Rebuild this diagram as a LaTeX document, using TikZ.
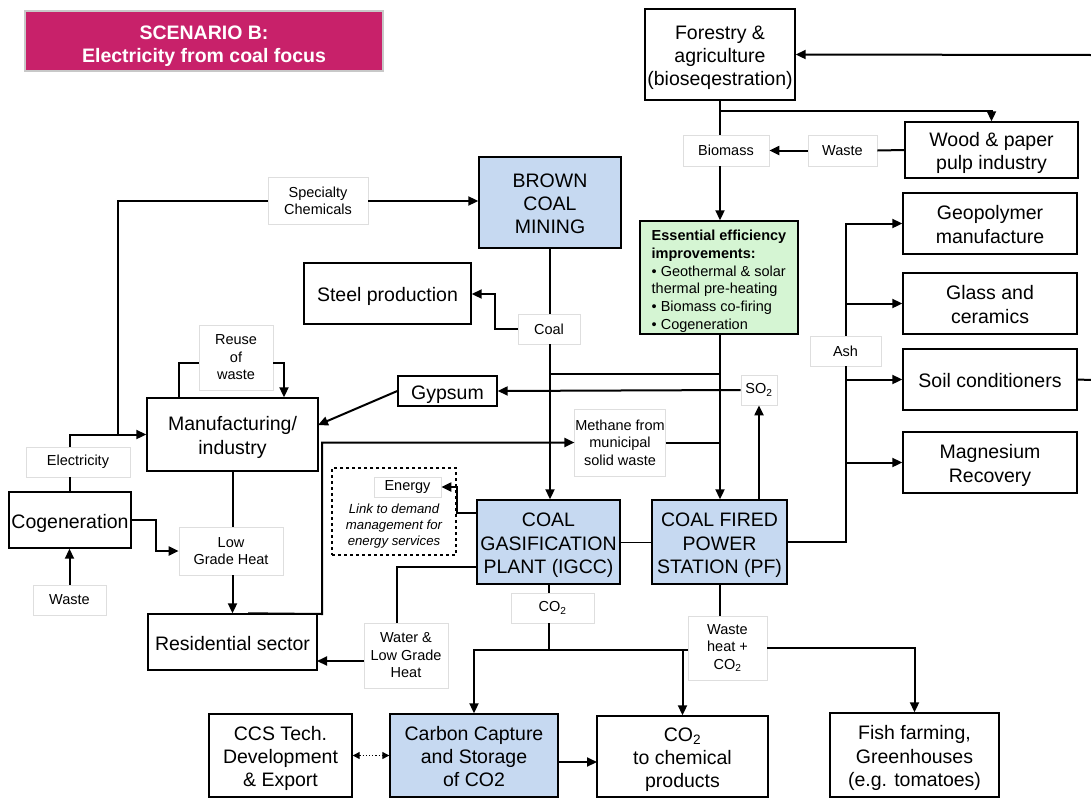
\documentclass[tikz,border=0pt]{standalone}
\usepackage{fontspec}
\setmainfont{Liberation Sans}
\usetikzlibrary{arrows.meta,calc}
\definecolor{titlemag}{RGB}{200,33,106}
\definecolor{boxblue}{RGB}{198,217,241}
\definecolor{boxgreen}{RGB}{213,245,211}
\definecolor{lblgray}{RGB}{222,222,222}
\definecolor{titleedge}{RGB}{200,200,200}
\newcommand\tsA{\rule{0pt}{1.05em}}
\newcommand\bsA{\rule[-0.22em]{0pt}{0pt}}
\tikzset{
  sz/.style 2 args={minimum width=#1pt, minimum height=#2pt},
  bigbox/.style={draw, line width=1.4pt, align=center, inner sep=1pt,
    font=\fontsize{19.5}{23.3}\selectfont},
  bluebox/.style={bigbox, fill=boxblue},
  titlebox/.style={draw=titleedge, line width=1.5pt, fill=titlemag, text=white,
    align=center, inner sep=1pt, font=\bfseries\fontsize{19.5}{23.3}\selectfont},
  lbl/.style={draw=lblgray, line width=0.7pt, fill=white, align=center, inner sep=0.5pt,
    font=\fontsize{14.5}{17.5}\selectfont},
  ln/.style={line width=2pt},
  arr/.style={line width=2pt, -{Triangle[length=10pt,width=9pt]}},
}
\begin{document}
\begin{tikzpicture}[x=1pt,y=-1pt]
\useasboundingbox (0,0) rectangle (1091,798);

% ---- nodes ----
\node[titlebox, sz={358}{60}] (title) at (204,41) {\rule{0pt}{24pt}SCENARIO B:\\Electricity from coal focus};

\node[bigbox, sz={150}{91}] (forest) at (720,54.5) {\tsA Forestry \&\\agriculture\\(bioseqestration)\bsA};
\node[bigbox, sz={173}{56}] (wood) at (991.5,150) {\tsA Wood \& paper\\pulp industry\bsA};
\node[lbl, sz={86}{31}] (biomass) at (726,150.5) {Biomass};
\node[lbl, sz={69}{31}] (wasteA) at (842.5,150.5) {Waste};
\node[draw, line width=1.4pt, fill=boxgreen, sz={158}{113}, align=left, inner sep=1pt,
      font=\fontsize{14.5}{17.8}\selectfont] (essential) at (719,277.5)
  {\rule{0pt}{1.25em}\textbf{Essential efficiency}\\\textbf{improvements:}\\• Geothermal \& solar\\thermal pre-heating\\• Biomass co-firing\\• Cogeneration};

\node[bluebox, sz={142}{91}] (brown) at (550,202.5) {\tsA BROWN\\COAL\\MINING\bsA};
\node[lbl, sz={100}{47}] (spec) at (318,201) {Specialty\\Chemicals};
\node[bigbox, sz={167}{61}] (steel) at (387.5,293.5) {\tsA Steel production\bsA};
\node[lbl, sz={62}{30}] (coal) at (549,329) {Coal};
\node[lbl, sz={36}{30}] (so2) at (759,390) {SO\textsubscript{2}};
\node[bigbox, sz={99}{30}] (gypsum) at (447.5,391) {\tsA Gypsum\bsA};
\node[bigbox, sz={171}{73}] (manuf) at (232.5,434.5) {\tsA Manufacturing/\\industry\bsA};
\node[lbl, sz={74}{65}] (reuse) at (236,357.5) {Reuse\\of\\waste};
\node[lbl, sz={104}{30}] (elec) at (78,462) {Electricity};
\node[bigbox, sz={122}{56}] (cogen) at (70,520) {\tsA Cogeneration\bsA};
\node[lbl, sz={73}{30}] (wasteB) at (69.5,600) {Waste};
\node[lbl, sz={104}{48}] (lgh) at (231,551) {Low\\Grade Heat};
\node[bigbox, sz={169}{56}] (resid) at (232.5,642) {\tsA Residential sector\bsA};
\node[lbl, sz={90}{67}] (methane) at (620,442.5) {Methane from\\municipal\\solid waste};

\node[draw, dashed, line width=1.2pt, sz={124}{87}] (dashbox) at (394,511.5) {};
\node[lbl, sz={67}{20}] (energy) at (407.5,487) {Energy};
\node[align=center, inner sep=0pt, font=\itshape\fontsize{13.2}{16}\selectfont] (linktext) at (394,526)
  {Link to demand\\management for\\energy services};

\node[bluebox, sz={143}{84}] (gasif) at (548.5,542) {\tsA COAL\\GASIFICATION\\PLANT (IGCC)\bsA};
\node[bluebox, sz={135}{84}] (power) at (719.5,542) {\tsA COAL FIRED\\POWER\\STATION (PF)\bsA};

\node[lbl, sz={71}{30}] (ash) at (845.5,351) {Ash};
\node[bigbox, sz={174}{61}] (geo) at (990,223.5) {\tsA Geopolymer\\manufacture\bsA};
\node[bigbox, sz={174}{61}] (glass) at (990,303.5) {\tsA Glass and\\ceramics\bsA};
\node[bigbox, sz={174}{61}] (soil) at (990,379.5) {\tsA Soil conditioners\bsA};
\node[bigbox, sz={174}{61}] (magn) at (990,462.5) {\tsA Magnesium\\Recovery\bsA};

\node[lbl, sz={84}{65}] (water) at (406,655.5) {Water \&\\Low Grade\\Heat};
\node[lbl, sz={83}{30}] (co2) at (552.5,608) {CO\textsubscript{2}};
\node[lbl, sz={79}{64}] (wasteheat) at (727.5,648) {Waste\\heat +\\CO\textsubscript{2}};

\node[bigbox, sz={143}{83}] (ccstech) at (280.5,755.5) {\tsA CCS Tech.\\Development\\\& Export\bsA};
\node[bluebox, sz={168}{83}] (ccs) at (474,755.5) {\tsA Carbon Capture\\and Storage\\of CO2\bsA};
\node[bigbox, sz={171}{81}] (co2chem) at (682.5,756.5) {\tsA CO\textsubscript{2}\\to chemical\\products\bsA};
\node[bigbox, sz={169}{84}] (fish) at (914.5,755) {\tsA Fish farming,\\Greenhouses\\(e.g. tomatoes)\bsA};

% ---- helper coordinates ----
\coordinate (rA) at (1091,55);
\coordinate (fb) at (720,111);
\coordinate (cs) at (495,294);
\coordinate (j1) at (550,374);
\coordinate (j2) at (720,374);
\coordinate (gyin) at (318,425);
\coordinate (sj) at (118,434.5);
\coordinate (ru) at (0,363);
\coordinate (rm) at (322,614);
\coordinate (en1) at (477,513);
\coordinate (en2) at (457,513);
\coordinate (wv1) at (477,567);
\coordinate (wv2) at (397,567);
\coordinate (wr1) at (364,661);
\coordinate (wr2) at (317,661);
\coordinate (cj) at (548.5,650);
\coordinate (cb) at (682.5,650);
\coordinate (rS) at (1091,380);
\coordinate (ccsout) at (558,762);
\coordinate (co2in) at (597,762);

% ---- connectors ----
\draw[arr] (rA) -- (forest.east);
\draw[ln] (forest.south) -- (forest.south |- biomass.north);
\draw[arr] (fb) -| (wood.north);
\draw[ln] (wood.west) -- (wasteA.east);
\draw[arr] (wasteA.west) -- (biomass.east);
\draw[arr] (forest.south |- biomass.south) -- (forest.south |- essential.north);
\draw[arr] (forest.south |- essential.south) -- (forest.south |- power.north);

\draw[ln] (brown.south) -- (brown.south |- coal.north);
\draw[arr] (brown.south |- coal.south) -- (brown.south |- gasif.north);
\draw[arr] (coal.west) -| (cs) -- (steel.east |- cs);
\draw[ln] (j1) -- (j2);

\draw[arr] (so2.south |- power.north) -- (so2.south);
\draw[arr] (so2.west) -- (gypsum.east);
\draw[arr] (gypsum.west) -- (gyin);

\draw[ln] ([xshift=-53.5pt]manuf.north) |- (reuse.west |- ru);
\draw[arr] (reuse.east |- ru) -| ([xshift=51.5pt]manuf.north);

\draw[ln] (cogen.north) -- (cogen.north |- elec.south);
\draw[arr] (cogen.north |- elec.north) |- (manuf.west);
\draw[ln] (sj) |- (spec.west);
\draw[arr] (spec.east) -- (brown.west |- spec.east);
\draw[arr] (wasteB.north) -- (wasteB.north |- cogen.south);
\draw[arr] (cogen.east) -- ++(24,0) |- (lgh.west);
\draw[ln] (manuf.south) -- (manuf.south |- lgh.north);
\draw[arr] (manuf.south |- lgh.south) -- (manuf.south |- resid.north);
\draw[arr] ([xshift=15.5pt]resid.north) -- (rm) |- (methane.west);
\draw[ln] (methane.east) -- (forest.south |- methane.east);

\draw[arr] (en1) -- (en2) |- (energy.east);
\draw[line width=1pt] (gasif.east) -- (power.west);

\draw[ln] (power.east) -| (ash.south);
\draw[arr] (ash.north) |- (geo.west);
\draw[arr] (ash.north |- glass.west) -- (glass.west);
\draw[arr] (ash.south |- soil.west) -- (soil.west);
\draw[arr] (ash.south |- magn.west) -- (magn.west);
\draw[ln] (soil.east) -- (rS);

\draw[ln] (wv1) -- (wv2) -- (wv2 |- water.north);
\draw[arr] (wr1) -- (wr2);
\draw[ln] (gasif.south) -- (gasif.south |- co2.north);
\draw[ln] (gasif.south |- co2.south) -- (cj);
\draw[arr] (cj) -| (ccs.north);
\draw[ln] (cj) -- (wasteheat.west |- cj);
\draw[arr] (cb) -- (co2chem.north);
\draw[ln] (power.south) -- (power.south |- wasteheat.north);
\draw[arr] (wasteheat.east) -| (fish.north);
\draw[dotted, line width=1.2pt, {Triangle[length=7pt,width=7pt]}-{Triangle[length=7pt,width=7pt]}] (ccstech.east) -- (ccs.west);
\draw[arr] (ccsout) -- (co2in);
\end{tikzpicture}
\end{document}
